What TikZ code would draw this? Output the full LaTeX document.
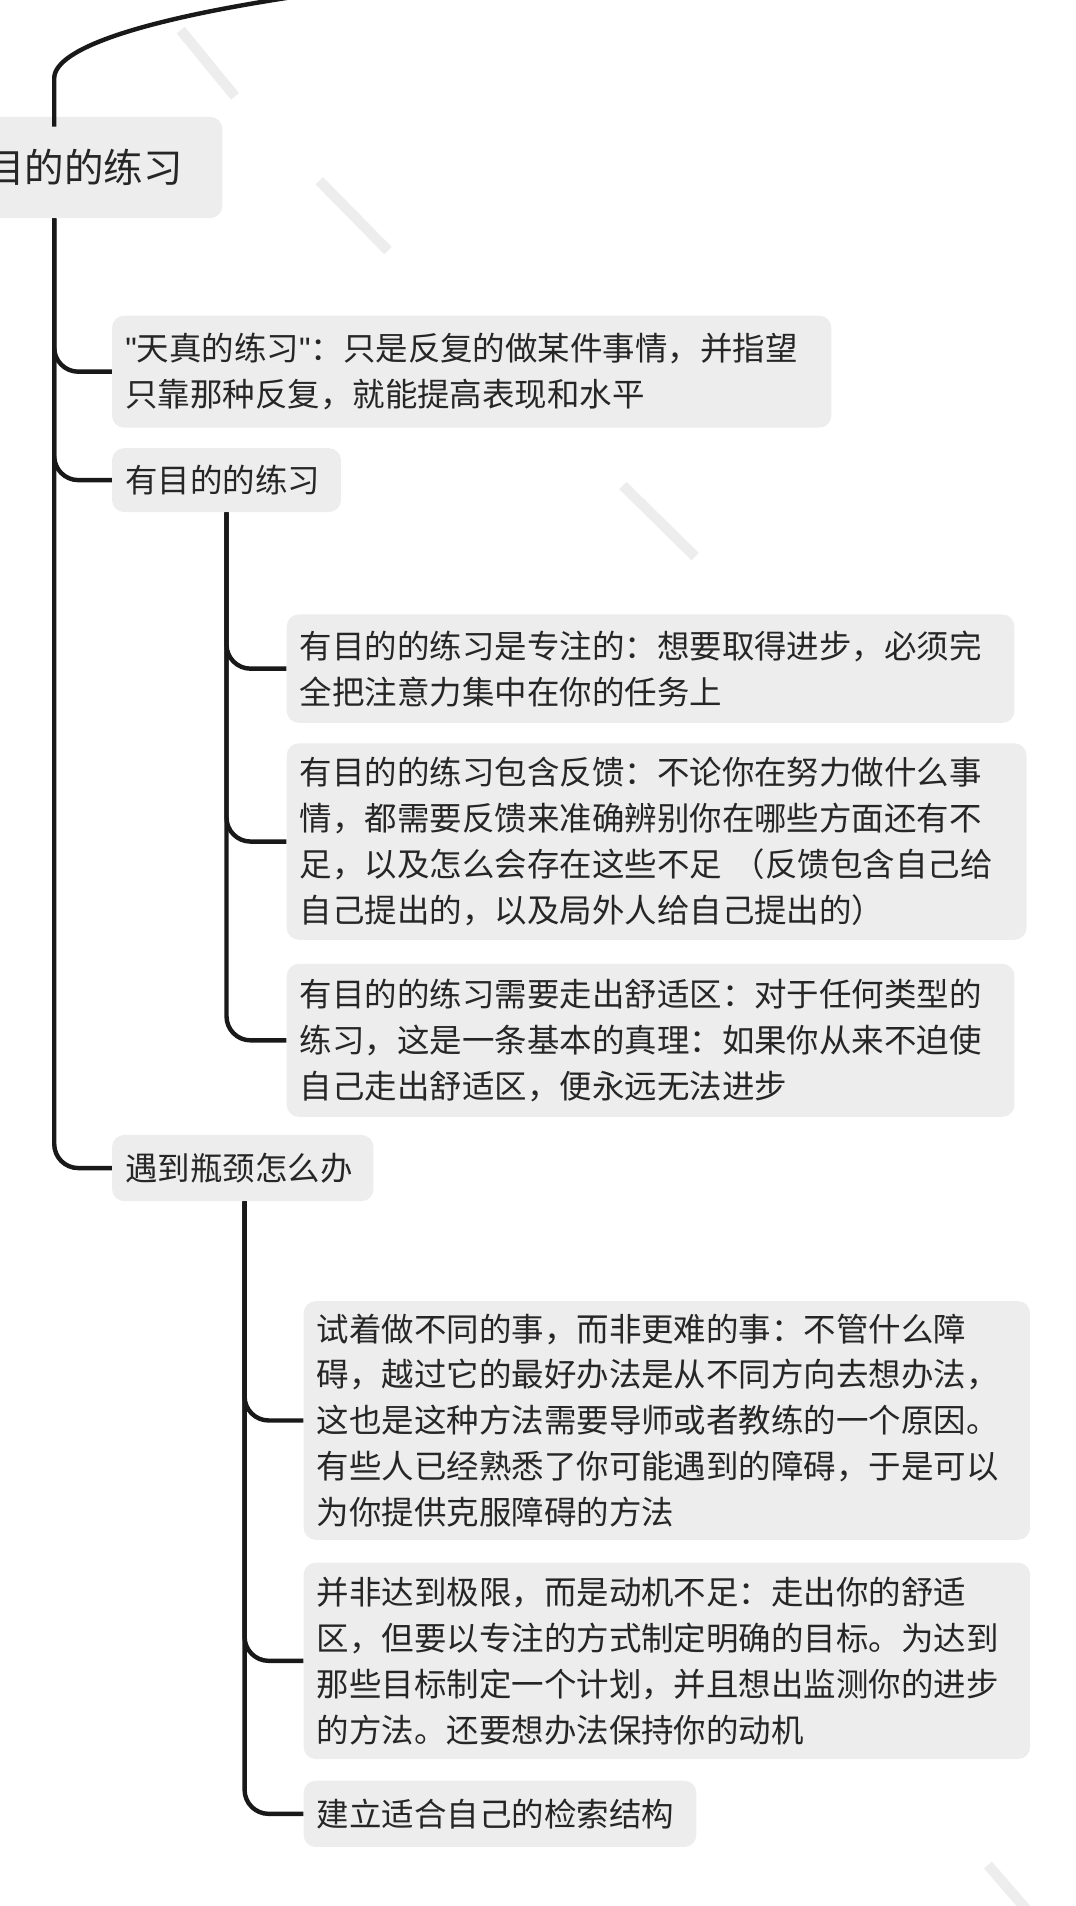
\documentclass[tikz,border=0pt]{standalone}
\usepackage{fontspec}
\setmainfont{Noto Sans CJK SC}
\newfontfamily\qfont{Liberation Sans}
\begin{document}
\begin{tikzpicture}[x=0.03cm,y=-0.03cm,
  boxst/.style={fill=black!7,rounded corners=0.3cm,inner xsep=0.33cm,inner ysep=0pt,align=left,font=\fontsize{23}{32.5}\selectfont,text=black!85},
  conn/.style={line width=1.1mm,black!90,rounded corners=0.6cm},
  wm/.style={line width=2.6mm,black!7}]
\useasboundingbox (0,0) rectangle (893,1582);
\clip (0,0) rectangle (893,1582);
\draw[wm] (150,25) -- (195,80);
\draw[wm] (265,150) -- (322,208);
\draw[wm] (517,403) -- (577,462);
\draw[wm] (820,1548) -- (865,1600);
\newcommand{\mybx}[6]{%
  \pgfmathsetmacro{\cx}{(#2+#4)/2}\pgfmathsetmacro{\cy}{(#3+#5)/2}%
  \pgfmathsetmacro{\tw}{(#4-#2-22)*0.03}\pgfmathsetmacro{\mh}{(#5-#3)*0.03}%
  \node[boxst,text width=\tw cm,minimum height=\mh cm] (#1) at (\cx,\cy) {#6};}
\node[fill=black!7,rounded corners=0.3cm,minimum width=195*0.03cm,minimum height=84*0.03cm] (root) at (87,139) {};
\node[anchor=east,font=\fontsize{28}{30}\selectfont,text=black!85,inner sep=0pt] (roott) at (152,139) {有目的的练习};
\mybx{c1}{93}{262}{690}{355}{{\qfont"}天真的练习{\qfont"}：只是反复的做某件事情，并指望\\只靠那种反复，就能提高表现和水平}
\mybx{c2}{93}{372}{283}{425}{有目的的练习}
\mybx{c3}{93}{942}{310}{997}{遇到瓶颈怎么办}
\mybx{d1}{238}{510}{842}{600}{有目的的练习是专注的：想要取得进步，必须完\\全把注意力集中在你的任务上}
\mybx{d2}{238}{617}{852}{780}{有目的的练习包含反馈：不论你在努力做什么事\\情，都需要反馈来准确辨别你在哪些方面还有不\\足，以及怎么会存在这些不足 （反馈包含自己给\\自己提出的，以及局外人给自己提出的）}
\mybx{d3}{238}{800}{842}{927}{有目的的练习需要走出舒适区：对于任何类型的\\练习，这是一条基本的真理：如果你从来不迫使\\自己走出舒适区，便永远无法进步}
\mybx{e1}{252}{1080}{855}{1278}{试着做不同的事，而非更难的事：不管什么障\\碍，越过它的最好办法是从不同方向去想办法，\\这也是这种方法需要导师或者教练的一个原因。\\有些人已经熟悉了你可能遇到的障碍，于是可以\\为你提供克服障碍的方法}
\mybx{e2}{252}{1297}{855}{1460}{并非达到极限，而是动机不足：走出你的舒适\\区，但要以专注的方式制定明确的目标。为达到\\那些目标制定一个计划，并且想出监测你的进步\\的方法。还要想办法保持你的动机}
\mybx{e3}{252}{1478}{578}{1533}{建立适合自己的检索结构}
\coordinate (top) at (260,-5);
\draw[conn] (root.north -| 45,0) -- (45,85) .. controls (45,40) and (120,15) .. (top);
\draw[conn] (root.south -| 45,0) |- (c1.west);
\draw[conn] (root.south -| 45,0) |- (c2.west);
\draw[conn] (root.south -| 45,0) |- (c3.west);
\draw[conn] (c2.south -| 188,0) |- (d1.west);
\draw[conn] (c2.south -| 188,0) |- (d2.west);
\draw[conn] (c2.south -| 188,0) |- (d3.west);
\draw[conn] (c3.south -| 203,0) |- (e1.west);
\draw[conn] (c3.south -| 203,0) |- (e2.west);
\draw[conn] (c3.south -| 203,0) |- (e3.west);
\end{tikzpicture}
\end{document}
